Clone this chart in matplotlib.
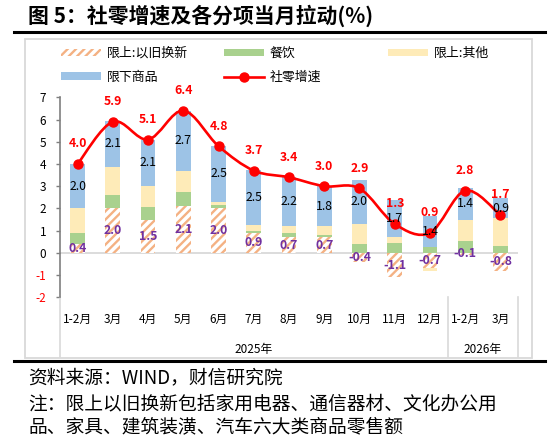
"""社零增速及各分项当月拉动 - stacked contribution bars with smoothed total line."""
import numpy as np
import matplotlib
matplotlib.use("Agg")
import matplotlib.pyplot as plt
import matplotlib.transforms as mtransforms
from matplotlib.path import Path
from matplotlib.patches import PathPatch, Rectangle
from matplotlib.lines import Line2D

plt.rcParams["font.family"] = ["Noto Sans CJK SC", "DejaVu Sans"]
plt.rcParams["axes.unicode_minus"] = False
plt.rcParams["hatch.linewidth"] = 1.7
plt.rcParams["hatch.color"] = "#F4B183"

MONTHS = ["1-2月", "3月", "4月", "5月", "6月", "7月", "8月", "9月", "10月",
          "11月", "12月", "1-2月", "3月"]
YEARS = ["2025年", "2026年"]
YEAR_FIRST = [0, 11]
YEAR_LAST = [10, 12]

renew = [0.4, 2.0, 1.5, 2.1, 2.0, 0.9, 0.7, 0.7, -0.4, -1.1, -0.7, -0.1, -0.8]
catering = [0.5, 0.6, 0.55, 0.65, 0.15, 0.1, 0.2, 0.1, 0.4, 0.45, 0.25, 0.55, 0.3]
other = [1.1, 1.25, 0.95, 0.95, 0.15, 0.25, 0.3, 0.4, 0.9, 0.25, -0.1, 0.95, 1.25]
below = [2.0, 2.1, 2.1, 2.7, 2.5, 2.5, 2.2, 1.8, 2.0, 1.7, 1.4, 1.4, 0.9]
total = [4.0, 5.9, 5.1, 6.4, 4.8, 3.7, 3.4, 3.0, 2.9, 1.3, 0.9, 2.8, 1.7]

C_RENEW = "#F4B183"
C_CATER = "#A9D18E"
C_OTHER = "#FEEBB8"
C_BELOW = "#9DC3E6"
C_RED = "#FF0000"
C_PURPLE = "#7030A0"


def smooth_path(xs, ys):
    pts = np.column_stack([xs, ys]).astype(float)
    n = len(pts)
    verts, codes = [pts[0]], [Path.MOVETO]
    for i in range(n - 1):
        p0 = pts[max(i - 1, 0)]
        p1, p2 = pts[i], pts[i + 1]
        p3 = pts[min(i + 2, n - 1)]
        verts += [p1 + (p2 - p0) / 6, p2 - (p3 - p1) / 6, p2]
        codes += [Path.CURVE4] * 3
    return Path(verts, codes)


fig = plt.figure(figsize=(5.5, 4.47), dpi=100)
ax = fig.add_axes([60 / 550, 1 - 297.3 / 447, 458 / 550, 200 / 447])

x = np.arange(len(MONTHS))
width = 0.42
pos_base = np.zeros(len(x))
neg_base = np.zeros(len(x))
bars = {}
mids = {}
for name, vals, color, hatch in [("renew", renew, "white", "////"),
                                 ("cater", catering, C_CATER, None),
                                 ("other", other, C_OTHER, None),
                                 ("below", below, C_BELOW, None)]:
    v = np.asarray(vals, dtype=float)
    bottom = np.where(v >= 0, pos_base, neg_base)
    if hatch:
        bars[name] = ax.bar(x, v, width, bottom=bottom, color=color,
                            edgecolor=C_RENEW, linewidth=0, hatch=hatch, zorder=2)
    else:
        bars[name] = ax.bar(x, v, width, bottom=bottom, color=color,
                            linewidth=0, zorder=2)
    mids[name] = bottom + v / 2
    pos_base = pos_base + np.where(v >= 0, v, 0)
    neg_base = neg_base + np.where(v < 0, v, 0)

ax.axhline(0, color="#D9D9D9", lw=1.3, zorder=1)

path = smooth_path(x, total)
ax.add_patch(PathPatch(path, fill=False, edgecolor=C_RED, lw=1.9, zorder=4))
ax.plot(x, total, "o", color=C_RED, ms=6.5, zorder=5)

for i in range(len(x)):
    ax.text(x[i], mids["renew"][i], f"{renew[i]:.1f}", ha="center", va="center",
            color=C_PURPLE, fontsize=8.8, fontweight="bold", zorder=6)
    ax.text(x[i], mids["below"][i], f"{below[i]:.1f}", ha="center", va="center",
            color="black", fontsize=8.8, zorder=6)
    ax.annotate(f"{total[i]:.1f}", (x[i], total[i]), xytext=(0, 14.5),
                textcoords="offset points", ha="center", va="center",
                color=C_RED, fontsize=8.8, fontweight="bold", zorder=6)

ax.set_xlim(-0.5, len(x) - 0.5)
ax.set_ylim(-2, 7)
ax.set_yticks(range(-2, 8))
ax.set_xticks(x)
ax.set_xticklabels(MONTHS)
ax.tick_params(axis="x", length=0, pad=11, labelsize=8.5)
ax.tick_params(axis="y", direction="out", length=3, width=1, color="#7F7F7F",
               pad=7, labelsize=8.5)
for lab, val in zip(ax.get_yticklabels(), range(-2, 8)):
    lab.set_color(C_RED if val < 0 else "black")
for s in ["top", "right", "bottom"]:
    ax.spines[s].set_visible(False)
ax.spines["left"].set_color("#7F7F7F")
ax.spines["left"].set_linewidth(1.2)

# two-level category axis
trans = mtransforms.blended_transform_factory(ax.transData, ax.transAxes)
for b in [-0.5, YEAR_LAST[0] + 0.5, YEAR_LAST[1] + 0.5]:
    ax.plot([b, b], [0, -0.30], transform=trans, color="#D9D9D9", lw=1.2,
            clip_on=False)
for yr, a, b in zip(YEARS, YEAR_FIRST, YEAR_LAST):
    ax.text((a + b) / 2, -0.262, yr, transform=trans, ha="center", va="center",
            fontsize=8.5)

# legend, three columns laid out like the source
hand_line = Line2D([], [], color=C_RED, lw=1.9, marker="o", ms=6.5)
leg_kw = dict(frameon=False, fontsize=9.3, handlelength=3.1, handleheight=0.56,
              handletextpad=0.45, labelspacing=0.85, borderpad=0, borderaxespad=0,
              loc="upper left")
top = 1 - 47 / 447
fig.legend([bars["renew"], bars["below"]], ["限上:以旧换新", "限下商品"],
           bbox_to_anchor=(61 / 550, top), **leg_kw)
fig.legend([bars["cater"], hand_line], ["餐饮", "社零增速"],
           bbox_to_anchor=(224 / 550, top), **leg_kw)
fig.legend([bars["other"]], ["限上:其他"],
           bbox_to_anchor=(388 / 550, top), **leg_kw)

# frame, rules, title and notes
fig.add_artist(Rectangle((25 / 550, 1 - 358 / 447), 507 / 550, 319 / 447,
                         transform=fig.transFigure, fill=False,
                         edgecolor="#D9D9D9", lw=1.3))
for yy in [32.4, 361]:
    fig.add_artist(Line2D([14 / 550, 545 / 550], [1 - yy / 447] * 2,
                          transform=fig.transFigure, color="black", lw=2.2))
fig.text(28 / 550, 1 - 16 / 447, "图 5：社零增速及各分项当月拉动(%)",
         fontsize=15, fontweight="bold", va="center", ha="left")
notes = ["资料来源：WIND，财信研究院",
         "注：限上以旧换新包括家用电器、通信器材、文化办公用",
         "品、家具、建筑装潢、汽车六大类商品零售额"]
for txt, yy in zip(notes, [378, 404, 427]):
    fig.text(28 / 550, 1 - yy / 447, txt, fontsize=13.5, va="center", ha="left")

fig.savefig("out.png", dpi=100)
